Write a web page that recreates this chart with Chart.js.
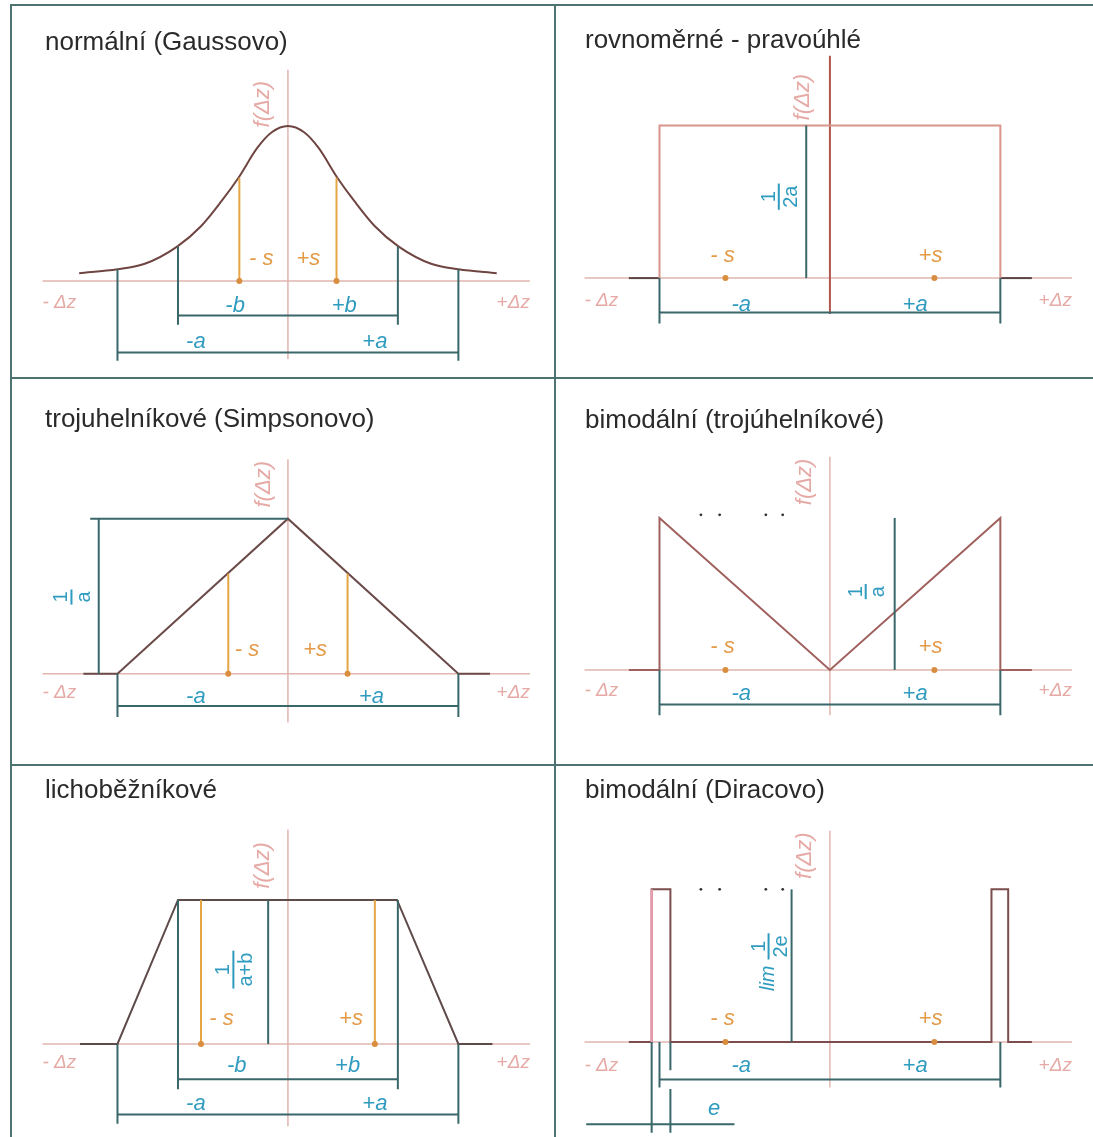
<!DOCTYPE html>
<html>
<head>
<meta charset="utf-8">
<script src="https://cdn.jsdelivr.net/npm/chart.js@4.4.1/dist/chart.umd.min.js"></script>
<style>
  body { margin: 0; background: #fff; }
  #wrap { position: relative; width: 1093px; height: 1137px; overflow: hidden; background: #fff; }
  #wrap canvas { position: absolute; }
  .ln { position: absolute; background: #4d7370; }
</style>
</head>
<body>
<div id="wrap"></div>
<script>
// ---- data (units: x in multiples of a, y in relative density) ----
const titles = ['normální (Gaussovo)', 'rovnoměrné - pravoúhlé', 'trojuhelníkové (Simpsonovo)',
                'bimodální (trojúhelníkové)', 'lichoběžníkové', 'bimodální (Diracovo)'];

const axisSpan = [-1.44, 1.42];
const fAxisTop = [1.35, 1.42, 1.37, 1.36, 1.37, 1.35];
const fAxisBottom = [-0.5, -0.23, -0.31, -0.29, -0.525, -0.29];

const gaussX = [-1.225, -1.0, -0.84, -0.65, -0.51, -0.39, -0.29, -0.18, -0.095, 0, 0.095, 0.18, 0.29, 0.39, 0.51, 0.65, 0.84, 1.0, 1.225];
const gaussY = [0.05, 0.075, 0.11, 0.22, 0.35, 0.51, 0.66, 0.85, 0.95, 0.99, 0.95, 0.85, 0.66, 0.51, 0.35, 0.22, 0.11, 0.075, 0.05];
const rectX = [-1, -1, 1, 1];
const rectY = [0, 0.975, 0.975, 0];
const rectTails = [[-1.18, -1], [1, 1.185]];
const triX = [-1.2, -1, 0, 1, 1.185];
const triY = [0, 0, 0.99, 0, 0];
const vX = [-1.18, -1, -1, 0, 1, 1, 1.185];
const vY = [0, 0, 0.97, 0, 0.97, 0, 0];
const trapX = [-1.22, -1, -0.645, 0.64, 1, 1.2];
const trapY = [0, 0, 0.92, 0.92, 0, 0];
const diracX = [-1.18, -1.046, -1.046, -0.936, -0.936, 0.948, 0.948, 1.046, 1.046, 1.185];
const diracY = [0, 0, 0.975, 0.975, 0, 0, 0.975, 0.975, 0, 0];

// ±s position and height of the orange line (0 = dot only)
const sPos = [0.285, 0.613, 0.35, 0.613, 0.51, 0.613];
const sTop = [0.66, 0, 0.64, 0, 0.92, 0];
const sLabelX = [[-0.156, 0.12], [-0.63, 0.59], [-0.24, 0.16], [-0.63, 0.59], [-0.39, 0.37], [-0.63, 0.59]];
const sLabelY = [0.144, 0.144, 0.15, 0.15, 0.16, 0.15];

// dimension lines: [half width, line level, extension top, extension bottom]
const dimLines = [
  [[0.645, -0.22, 0.22, -0.28], [1.0, -0.456, 0.075, -0.51]],
  [[1, -0.22, 0, -0.29]],
  [[1, -0.206, 0, -0.275]],
  [[1, -0.22, 0, -0.29]],
  [[0.645, -0.225, 0.92, -0.29], [1, -0.45, 0, -0.51]],
  [[1, -0.24, 0, -0.29]]
];
const dimLabels = [
  [['-b', -0.31, -0.156], ['+b', 0.33, -0.156], ['-a', -0.54, -0.39], ['+a', 0.51, -0.39]],
  [['-a', -0.52, -0.17], ['+a', 0.5, -0.17]],
  [['-a', -0.54, -0.15], ['+a', 0.49, -0.15]],
  [['-a', -0.52, -0.156], ['+a', 0.5, -0.156]],
  [['-b', -0.3, -0.14], ['+b', 0.35, -0.14], ['-a', -0.54, -0.38], ['+a', 0.51, -0.38]],
  [['-a', -0.52, -0.15], ['+a', 0.5, -0.15], ['e', -0.68, -0.425]]
];

// teal height markers (x, top)
const heightX = [null, -0.139, -1.11, 0.38, -0.116, -0.225];
const heightTop = [null, 0.975, 0.99, 0.97, 0.92, 0.975];
const peakLine = [-1.16, 0, 0.99];            // panel 3 horizontal at the peak
const eLines = [[-1.046, 0, -0.58], [-0.936, 0, -0.18], [-0.936, -0.3, -0.58]];
const eBar = [-1.43, -0.56, -0.525];

// fractions: numerator, denominator, x, y, prefix
const fracs = [null, ['1', '2a', -0.3, 0.52], ['1', 'a', -1.27, 0.49], ['1', 'a', 0.21, 0.5],
               ['1', 'a+b', -0.32, 0.475], ['1', '2e', -0.36, 0.51, 'lim']];

const dotsX = [-0.757, -0.647, -0.376, -0.277];
const dotsY = [null, null, null, 0.99, null, 0.975];

const dzLabelY = [-0.1375, -0.144, -0.12, -0.13, -0.12, -0.15];
const fLabelX = [-0.145, -0.156, -0.139, -0.147, -0.147, -0.147];
const fLabelY = [1.13, 1.156, 1.21, 1.2, 1.14, 1.19];

// ---- layout ----
const UX = 173, UY = 160;
const panelBox = [[12, 6, 554, 377], [556, 6, 1093, 377], [12, 379, 554, 764],
                  [556, 379, 1093, 764], [12, 766, 554, 1137], [556, 766, 1093, 1137]];
const panelOrigin = [[288, 283], [830, 280], [288, 676], [830, 672], [288, 1046], [830, 1044]];
const titlePos = [[33, 44], [29, 42], [33, 48], [29, 49], [33, 32], [29, 32]];

const TEAL = '#3a676a', TEAL_TXT = '#2e9bbf', ORANGE = '#e6a545', ORANGE_TXT = '#e49b48';
const PINK = '#e0b6ae', PINK_TXT = '#e6aaa6';
const curveColor = ['#6f4541', '#d8958a', '#6a4b49', '#a0615e', '#5f4a4a', '#7b4d4d'];
const FONT = '"Liberation Sans", Arial, sans-serif';

function line(pts, color, width, extra) {
  return Object.assign({
    data: pts.map(p => ({ x: p[0], y: p[1] })),
    borderColor: color, borderWidth: width, showLine: true,
    pointRadius: 0, fill: false, tension: 0, clip: false
  }, extra || {});
}

function zip(xs, ys) { return xs.map((x, k) => [x, ys[k]]); }

const curves = [[gaussX, gaussY], [rectX, rectY], [triX, triY], [vX, vY], [trapX, trapY], [diracX, diracY]];

function buildDatasets(i) {
  const ds = [];
  ds.push(line([[axisSpan[0], 0], [axisSpan[1], 0]], PINK, 1.5));
  ds.push(line([[0, fAxisBottom[i]], [0, fAxisTop[i]]], i === 1 ? '#b0584f' : PINK, i === 1 ? 2 : 1.5));
  if (i === 1) rectTails.forEach(t => ds.push(line([[t[0], 0], [t[1], 0]], '#5a4444', 2)));
  ds.push(line(zip(curves[i][0], curves[i][1]), curveColor[i], 2,
    i === 0 ? { cubicInterpolationMode: 'monotone' } : {}));
  if (i === 5) ds.push(line([[diracX[1], 0], [diracX[2], diracY[2]]], '#e89cae', 2.5));

  dimLines[i].forEach(d => {
    ds.push(line([[-d[0], d[1]], [d[0], d[1]]], TEAL, 2));
    ds.push(line([[-d[0], d[2]], [-d[0], d[3]]], TEAL, 2));
    ds.push(line([[d[0], d[2]], [d[0], d[3]]], TEAL, 2));
  });
  if (heightX[i] !== null) ds.push(line([[heightX[i], 0], [heightX[i], heightTop[i]]], TEAL, 2));
  if (i === 2) ds.push(line([[peakLine[0], peakLine[2]], [peakLine[1], peakLine[2]]], TEAL, 2));
  if (i === 5) {
    eLines.forEach(e => ds.push(line([[e[0], e[1]], [e[0], e[2]]], TEAL, 2)));
    ds.push(line([[eBar[0], eBar[2]], [eBar[1], eBar[2]]], TEAL, 2));
  }
  if (sTop[i] > 0) {
    ds.push(line([[-sPos[i], 0], [-sPos[i], sTop[i]]], ORANGE, 2));
    ds.push(line([[sPos[i], 0], [sPos[i], sTop[i]]], ORANGE, 2));
  }
  ds.push({ data: [{ x: -sPos[i], y: 0 }, { x: sPos[i], y: 0 }], showLine: false,
            pointRadius: 3, pointBackgroundColor: '#d98d3e', pointBorderWidth: 0, clip: false });
  if (dotsY[i] !== null) {
    ds.push({ data: dotsX.map(x => ({ x: x, y: dotsY[i] })), showLine: false,
              pointRadius: 1.4, pointBackgroundColor: '#333', pointBorderWidth: 0, clip: false });
  }
  return ds.reverse();   // first dataset is drawn on top
}

function rotFrac(ctx, num, den, px, py, prefix) {
  ctx.save();
  ctx.translate(px, py);
  ctx.rotate(-Math.PI / 2);
  ctx.fillStyle = TEAL_TXT;
  ctx.font = '20px ' + FONT;
  const w = Math.max(ctx.measureText(num).width, ctx.measureText(den).width) + 4;
  let x0 = -w / 2;
  if (prefix) {
    ctx.font = 'italic 20px ' + FONT;
    const wp = ctx.measureText(prefix).width;
    const total = wp + 6 + w;
    ctx.textAlign = 'left';
    ctx.textBaseline = 'middle';
    ctx.fillText(prefix, -total / 2, 0);
    x0 = -total / 2 + wp + 6;
    ctx.font = '20px ' + FONT;
  }
  ctx.fillRect(x0, -1, w, 2);
  ctx.textAlign = 'center';
  ctx.textBaseline = 'alphabetic';
  ctx.fillText(num, x0 + w / 2, -4);
  ctx.textBaseline = 'top';
  ctx.fillText(den, x0 + w / 2, 3);
  ctx.restore();
}

const textPlugin = {
  id: 'sketchText',
  afterDatasetsDraw(chart, args, opts) {
    const ctx = chart.ctx;
    const X = v => chart.scales.x.getPixelForValue(v);
    const Y = v => chart.scales.y.getPixelForValue(v);
    const i = opts.panel;
    ctx.save();
    ctx.font = '26px ' + FONT;
    ctx.fillStyle = '#2a2a2a';
    ctx.textAlign = 'left';
    ctx.textBaseline = 'alphabetic';
    ctx.fillText(titles[i], titlePos[i][0], titlePos[i][1]);

    ctx.textBaseline = 'middle';
    ctx.font = 'italic 19px ' + FONT;
    ctx.fillStyle = PINK_TXT;
    ctx.textAlign = 'left';
    ctx.fillText('- Δz', X(axisSpan[0]), Y(dzLabelY[i]));
    ctx.textAlign = 'right';
    ctx.fillText('+Δz', X(axisSpan[1]), Y(dzLabelY[i]));

    ctx.save();
    ctx.translate(X(fLabelX[i]), Y(fLabelY[i]));
    ctx.rotate(-Math.PI / 2);
    ctx.textAlign = 'center';
    ctx.font = 'italic 22px ' + FONT;
    ctx.fillText('f(Δz)', 0, 0);
    ctx.restore();

    ctx.font = 'italic 22px ' + FONT;
    ctx.fillStyle = ORANGE_TXT;
    ctx.textAlign = 'center';
    ctx.fillText('- s', X(sLabelX[i][0]), Y(sLabelY[i]));
    ctx.fillText('+s', X(sLabelX[i][1]), Y(sLabelY[i]));

    ctx.fillStyle = TEAL_TXT;
    dimLabels[i].forEach(l => ctx.fillText(l[0], X(l[1]), Y(l[2])));

    const f = fracs[i];
    if (f) rotFrac(ctx, f[0], f[1], X(f[2]), Y(f[3]), f[4]);
    ctx.restore();
  }
};

const wrap = document.getElementById('wrap');
panelBox.forEach((b, i) => {
  const cv = document.createElement('canvas');
  cv.width = b[2] - b[0];
  cv.height = b[3] - b[1];
  cv.style.left = b[0] + 'px';
  cv.style.top = b[1] + 'px';
  wrap.appendChild(cv);
  const o = panelOrigin[i];
  new Chart(cv, {
    type: 'scatter',
    data: { datasets: buildDatasets(i) },
    options: {
      responsive: false, animation: false, devicePixelRatio: 1,
      layout: { padding: 0 },
      scales: {
        x: { type: 'linear', display: false, min: (b[0] - o[0]) / UX, max: (b[2] - o[0]) / UX },
        y: { type: 'linear', display: false, min: (o[1] - b[3]) / UY, max: (o[1] - b[1]) / UY }
      },
      plugins: { legend: { display: false }, tooltip: { enabled: false }, sketchText: { panel: i } }
    },
    plugins: [textPlugin]
  });
});

// panel frame
[[10, 4, 1083, 2], [10, 4, 2, 1133], [554, 4, 2, 1133], [10, 377, 1083, 2], [10, 764, 1083, 2]].forEach(r => {
  const d = document.createElement('div');
  d.className = 'ln';
  d.style.left = r[0] + 'px'; d.style.top = r[1] + 'px';
  d.style.width = r[2] + 'px'; d.style.height = r[3] + 'px';
  wrap.appendChild(d);
});
</script>
</body>
</html>
